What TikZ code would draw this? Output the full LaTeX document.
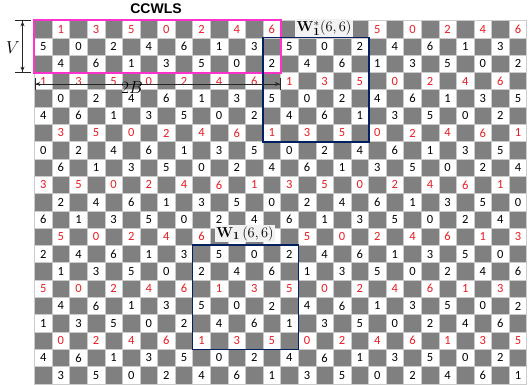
\documentclass[tikz,border=0pt]{standalone}
\usepackage[no-math]{fontspec}
\setmainfont{Carlito}
\newfontfamily\titlefont{Liberation Sans}
\usetikzlibrary{arrows.meta}

\definecolor{cellgray}{RGB}{128,128,128}
\definecolor{numred}{RGB}{235,28,36}
\definecolor{boxpink}{RGB}{255,51,204}
\definecolor{boxnavy}{RGB}{0,32,96}
\definecolor{labelfill}{RGB}{242,242,242}

\pgfkeys{tikz/cell/.style={rectangle,draw=gray!40,line width=0.5pt,minimum width=17.58pt,minimum height=17.3pt,inner sep=0pt,font=\fontsize{12.5}{12.5}\selectfont}}
\tikzset{
  graycell/.style={cell,fill=cellgray},
  whitecell/.style={cell,fill=white},
  winbox/.style={draw=boxnavy,line width=1.8pt},
  winlabel/.style={fill=labelfill,inner sep=1.5pt,font=\fontsize{15}{15}\selectfont},
  dimline/.style={line width=0.8pt,black!85},
}

\begin{document}
\begin{tikzpicture}[x=1pt,y=-1pt]
\useasboundingbox (0,0) rectangle (531,385);

% checkerboard
\foreach \r in {0,...,20}{
  \foreach \c in {0,...,27}{
    \pgfmathsetmacro\cx{34.5+(\c+0.5)*17.58}
    \pgfmathsetmacro\cy{20.5+(\r+0.5)*17.3}
    \pgfmathtruncatemacro\odd{mod(\r+\c,2)}
    \pgfmathtruncatemacro\val{mod(\c+5*\r,7)}
    \pgfmathtruncatemacro\hot{mod(\r,3)}
    \ifnum\odd=1
      \ifnum\hot=0
        \node[whitecell,text=numred] (m-\r-\c) at (\cx,\cy) {\val};
      \else
        \node[whitecell] (m-\r-\c) at (\cx,\cy) {\val};
      \fi
    \else
      \node[graycell] (m-\r-\c) at (\cx,\cy) {};
    \fi
  }
}

% windows
\draw[boxpink,line width=2.2pt] (m-0-0.north west) rectangle (m-2-13.south east);
\draw[winbox] (m-1-13.north west) rectangle (m-6-18.south east);
\draw[winbox] (m-13-9.north west) rectangle (m-18-14.south east);

\node[winlabel] (ws-label) at (324,28) {$\mathbf{W}^{*}_{\mathbf{1}}(6,6)$};
\node[winlabel] (w-label) at (245,233.5) {$\mathbf{W}_{\mathbf{1}}\,(6,6)$};

\node[font=\titlefont\bfseries\fontsize{14}{14}\selectfont] (title) at (156,9) {CCWLS};

% dimensions
\coordinate (v-top) at (22.5,20.5);
\coordinate (v-bot) at (22.5,72.4);
\draw[dimline,{Bar[width=16pt]Stealth[length=5pt,width=4pt]}-{Stealth[length=5pt,width=4pt]Bar[width=16pt]}] (v-top) -- (v-bot);
\node[font=\fontsize{17}{17}\selectfont] (v-label) at (13,48) {$V$};

\coordinate (b-left) at (34.5,84);
\coordinate (b-right) at (280.6,84);
\draw[dimline,{Bar[width=12pt]Stealth[length=5pt,width=4pt]}-{Stealth[length=5pt,width=4pt]Bar[width=12pt]}] (b-left) -- (b-right);
\node[font=\fontsize{18}{18}\selectfont] (b-label) at (132,88) {$2B$};
\end{tikzpicture}
\end{document}
